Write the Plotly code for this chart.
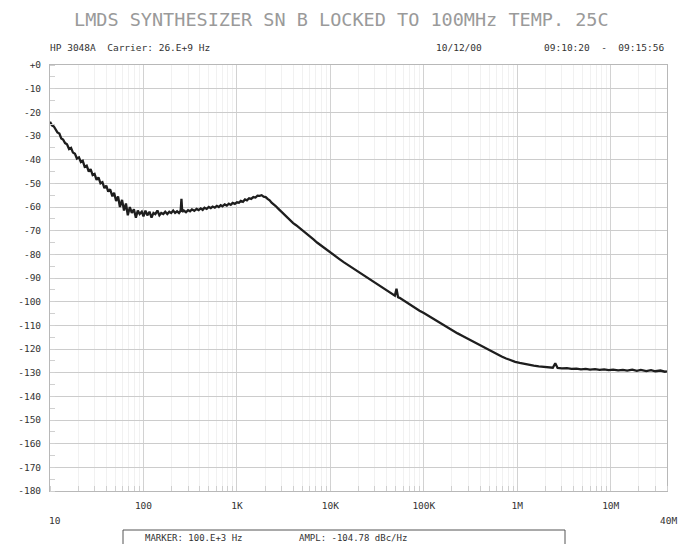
import math
import plotly.graph_objects as go

# ---------------- data ----------------
freq_hz = [
    10, 10.5, 11, 11.5, 12, 12.6, 13.2, 13.8, 14.5, 15.2,
    16, 16.8, 17.6, 18.5, 19.4, 20.4, 21.4, 22.4, 23.5, 24.7,
    26, 27.2, 28.6, 30, 31.5, 33, 34.7, 36.4, 38.2, 40,
    42, 44, 46.5, 48.5, 51, 53.5, 56, 59, 62, 65,
    68, 71.5, 75, 79, 83, 87, 91, 96, 100, 105,
    110, 116, 122, 128, 134, 141, 148, 155, 163, 171,
    180, 189, 198, 208, 218, 229, 240, 250, 255, 260,
    270, 285, 300, 315, 330, 350, 370, 390, 410, 430,
    450, 475, 500, 525, 550, 580, 610, 640, 670, 700,
    740, 780, 820, 860, 900, 950, 1000, 1050, 1100, 1160,
    1220, 1280, 1350, 1420, 1500, 1580, 1660, 1750, 1840, 1930,
    2030, 2130, 2240, 2350, 2480, 2600, 2750, 2900, 3050, 3200,
    3400, 3600, 3800, 4000, 4300, 4600, 5000, 5500, 6000, 6600,
    7200, 8000, 9000, 10000, 11000, 12500, 14000, 16000, 18000, 20000,
    22500, 25000, 28000, 31000, 34000, 38000, 42000, 46000, 49000, 51000,
    52000, 53000, 55000, 60000, 66000, 72000, 80000, 90000, 100000, 112000,
    125000, 140000, 160000, 180000, 200000, 230000, 260000, 300000, 340000, 380000,
    430000, 480000, 540000, 600000, 680000, 760000, 850000, 950000, 1060000, 1200000,
    1350000, 1500000, 1700000, 1900000, 2100000, 2400000, 2550000, 2700000, 3000000, 3400000,
    3800000, 4300000, 4800000, 5400000, 6000000, 6800000, 7600000, 8500000, 9500000, 10600000,
    12000000, 13500000, 15000000, 17000000, 19000000, 21000000, 24000000, 27000000, 30000000, 34000000,
    38000000, 40000000,
]
noise_dbc = [
    -24, -25.5, -26, -27.5, -28.5, -29, -31, -31.5, -33, -33.5,
    -35.5, -35, -37, -37.5, -39.5, -39, -41, -40.5, -43, -42.5,
    -45, -44, -46.5, -46, -48.5, -47.5, -50, -49.5, -52, -51,
    -53.5, -52.5, -55.5, -54, -57.5, -55.5, -60, -57, -61.5, -58.5,
    -63.5, -60, -62.5, -61, -64.5, -61.5, -63, -62, -64, -61.5,
    -63.5, -62, -64.5, -62.5, -63, -61.5, -63.5, -62.5, -63, -62,
    -63, -62, -62.5, -61.5, -62.5, -61.8, -62.5, -61.5, -56.5, -62,
    -61.5, -62.2, -61.3, -61.8, -61, -61.6, -60.8, -61.3, -60.6, -61.2,
    -60.3, -60.8, -60, -60.5, -59.8, -60.3, -59.5, -60, -59.2, -59.7,
    -58.9, -59.4, -58.6, -59.1, -58.3, -58.7, -58, -58.2, -57.4, -57.8,
    -56.8, -57.2, -56.3, -56.6, -55.8, -56, -55.2, -55.3, -55, -55.6,
    -55.8, -56.6, -57.2, -58.2, -58.8, -59.6, -60.6, -61.5, -62.3, -63.1,
    -64.2, -65.1, -66, -66.8, -67.7, -68.6, -69.8, -71.1, -72.4, -73.7,
    -75, -76.4, -78, -79.4, -80.6, -82, -83.4, -84.9, -86.1, -87.4,
    -88.6, -89.8, -91, -92.3, -93.4, -94.6, -95.8, -96.8, -97.5, -94.5,
    -97, -98.1, -98.4, -99.4, -100.5, -101.5, -102.6, -103.8, -104.8, -106,
    -107.2, -108.5, -109.8, -111, -112, -113.4, -114.5, -115.8, -117, -118,
    -119.2, -120.2, -121.3, -122.2, -123.2, -124, -124.8, -125.4, -125.9, -126.4,
    -126.8, -127, -127.3, -127.5, -127.7, -127.9, -126, -128, -128.2, -128.1,
    -128.4, -128.3, -128.6, -128.4, -128.7, -128.5, -128.8, -128.6, -128.9, -128.7,
    -129, -128.8, -129.1, -128.7, -129.2, -128.8, -129.3, -128.9, -129.4, -129.1,
    -129.6, -129.4,
]
assert len(freq_hz) == len(noise_dbc)

x_tick_vals = [100, 1e3, 1e4, 1e5, 1e6, 1e7]
x_tick_text = ["100", "1K", "10K", "100K", "1M", "10M"]
y_tick_vals = list(range(0, -190, -10))
y_tick_text = ["+0"] + [str(v) for v in y_tick_vals[1:]]

title_text = "LMDS SYNTHESIZER SN B LOCKED TO 100MHz TEMP. 25C"
instrument_text = "HP 3048A  Carrier: 26.E+9 Hz"
date_text = "10/12/00"
time_text = "09:10:20  -  09:15:56"
marker_text = "MARKER: 100.E+3 Hz"
ampl_text = "AMPL: -104.78 dBc/Hz"

# ---------------- figure ----------------
W, H = 679, 544
L, R, T, B = 50, 12, 65, 53
plot_h = H - T - B
plot_w = W - L - R


def px_x(px):
    return (px - L) / plot_w


def px_y(py):
    return (H - B - py) / plot_h


MONO = "DejaVu Sans Mono, Liberation Mono, monospace"
TXT = "#333333"

fig = go.Figure()
fig.add_trace(go.Scatter(
    x=freq_hz, y=noise_dbc, mode="lines",
    line=dict(color="#1e1e1e", width=2.3),
    hoverinfo="skip", showlegend=False,
))

fig.update_layout(
    width=W, height=H,
    margin=dict(l=L, r=R, t=T, b=B),
    paper_bgcolor="white", plot_bgcolor="white",
    showlegend=False,
    font=dict(family=MONO, size=9, color=TXT),
)

fig.update_xaxes(
    type="log", range=[1, math.log10(4e7)],
    tickvals=x_tick_vals, ticktext=x_tick_text,
    showgrid=True, gridcolor="#d2d2d2", gridwidth=1,
    ticks="", ticklabelstandoff=6,
    tickfont=dict(family=MONO, size=9.5, color=TXT),
    showline=True, linecolor="#b8b8b8", linewidth=1, mirror=True,
    zeroline=False,
    minor=dict(dtick="D1", showgrid=True, gridcolor="#f1f1f1",
               ticks="inside", ticklen=5, tickcolor="#cfcfcf"),
)
fig.update_yaxes(
    range=[-180, 0],
    tickvals=y_tick_vals, ticktext=y_tick_text,
    showgrid=True, gridcolor="#cccccc", gridwidth=1,
    ticks="", ticklabelstandoff=6,
    tickfont=dict(family=MONO, size=9.5, color=TXT),
    showline=True, linecolor="#b8b8b8", linewidth=1, mirror=True,
    zeroline=False,
    minor=dict(dtick=5, showgrid=False, ticks="inside", ticklen=5,
               tickcolor="#d0d0d0"),
)

ann = []


def add_text(text, px, py, anchor, size=9.5, color=TXT):
    ann.append(dict(text=text, x=px_x(px), y=px_y(py), xref="paper", yref="paper",
                    xanchor=anchor, yanchor="middle", showarrow=False,
                    font=dict(family=MONO, size=size, color=color)))


add_text(title_text, 341, 20, "center", size=18.5, color="#9a9a9a")
add_text(instrument_text, 48, 47, "left")
add_text(date_text, 434, 47, "left")
add_text(time_text, 666, 47, "right")
add_text("10", 55, 520, "center")
add_text("40M", 679, 520, "right")
add_text(marker_text, 143, 538, "left", size=9)
add_text(ampl_text, 297, 538, "left", size=9)
fig.update_layout(annotations=ann)

fig.add_shape(type="rect", xref="paper", yref="paper",
              x0=px_x(123), x1=px_x(565), y0=px_y(530), y1=px_y(552),
              line=dict(color="#555555", width=1), fillcolor="rgba(0,0,0,0)")

fig.write_html("out.html",
               config={"displayModeBar": False},
               post_script="document.body.style.margin='0';document.body.style.padding='0';")
